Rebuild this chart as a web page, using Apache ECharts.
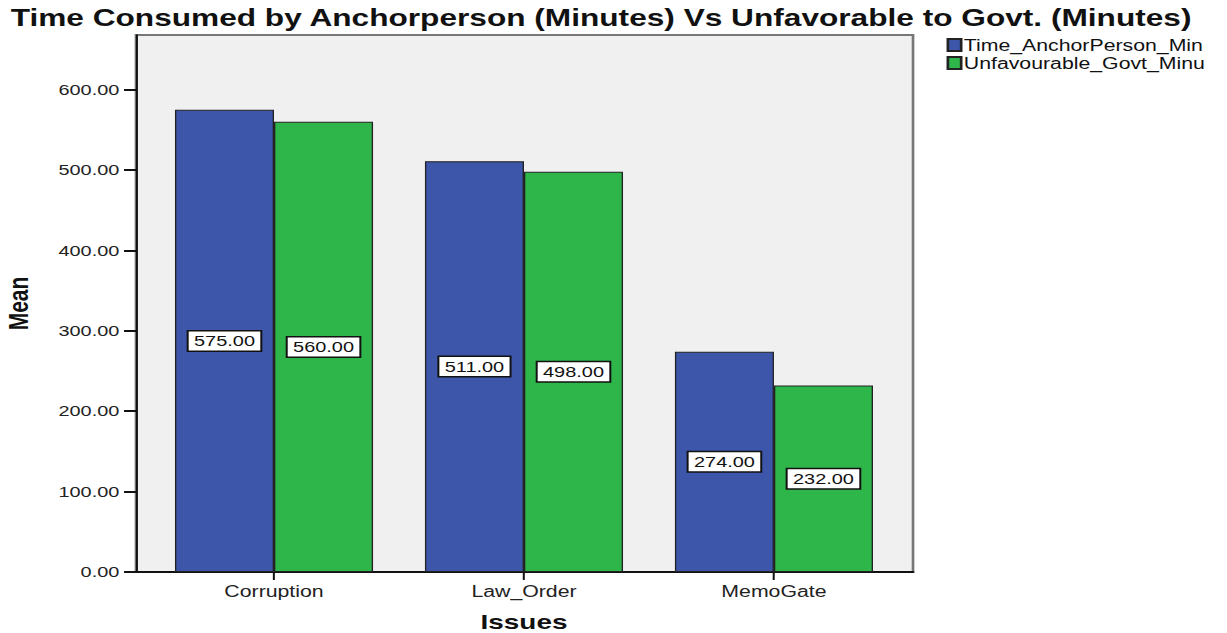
<!DOCTYPE html>
<html>
<head>
<meta charset="utf-8">
<script src="https://cdn.jsdelivr.net/npm/echarts@6/dist/echarts.min.js"></script>
<style>
  html, body { margin: 0; padding: 0; background: #fff; overflow: hidden; }
  #wrap { width: 1227px; height: 633px; overflow: hidden; }
  /* the original SPSS picture is stretched sideways, so the chart is too */
  #main { width: 923px; height: 633px; transform: scaleX(1.3294); transform-origin: 0 0; }
</style>
</head>
<body>
<div id="wrap"><div id="main"></div></div>
<script>
// data
var issues = ["Corruption", "Law_Order", "MemoGate"];
var anchorTime = [575, 511, 274];
var unfavGovt = [560, 498, 232];
var seriesNames = ["Time_AnchorPerson_Minutes", "Unfavourable_Govt_Minutes"];
var yTicks = [0, 100, 200, 300, 400, 500, 600];
var yMax = 668;

var font = "Liberation Sans, Arial, sans-serif";

function barLabel() {
  return {
    show: true,
    position: "inside",
    formatter: function (p) { return p.value.toFixed(2); },
    backgroundColor: "#fff",
    borderColor: "#111",
    borderWidth: 1.5,
    padding: [3, 4, 1, 4],
    fontSize: 15,
    fontFamily: font,
    color: "#111"
  };
}

var option = {
  animation: false,
  title: {
    text: "Time Consumed by Anchorperson (Minutes) Vs Unfavorable to Govt. (Minutes)",
    left: 3,
    top: 1,
    textStyle: { fontSize: 23.8, fontWeight: "bold", fontFamily: font, color: "#111" }
  },
  legend: {
    orient: "vertical",
    left: 712,
    top: 37,
    padding: 0,
    itemWidth: 10,
    itemHeight: 12,
    itemGap: 2,
    icon: "rect",
    textStyle: { fontSize: 16, fontFamily: font, color: "#111", padding: [0, 0, 0, -3],
      width: 187, overflow: "truncate", ellipsis: "" },
    data: seriesNames
  },
  grid: [
    // frame with grey background
    { left: 102.3, right: 236.2, top: 35, bottom: 61, show: true, outerBoundsMode: "none",
      backgroundColor: "#f0f0f0", borderColor: "#777", borderWidth: 2 },
    // data area, inset like the original
    { left: 112.1, right: 246.8, top: 35, bottom: 61, outerBoundsMode: "none" }
  ],
  xAxis: [
    { gridIndex: 0, type: "value", min: 0, max: 1,
      axisLine: { show: true, onZero: false, lineStyle: { color: "#111", width: 2 } },
      axisTick: { show: false }, axisLabel: { show: false }, splitLine: { show: false } },
    { gridIndex: 1, type: "category", data: issues, boundaryGap: true,
      axisLine: { show: false },
      axisTick: { show: true, alignWithLabel: true, length: 8, lineStyle: { color: "#111", width: 1.5 } },
      axisLabel: { fontSize: 16, fontFamily: font, color: "#222", margin: 11 },
      name: "Issues", nameLocation: "middle", nameGap: 39,
      nameTextStyle: { fontSize: 21, fontWeight: "bold", fontFamily: font, color: "#111" } }
  ],
  yAxis: [
    { gridIndex: 0, type: "value", min: 0, max: yMax,
      axisLine: { show: true, lineStyle: { color: "#111", width: 1.5 } },
      axisTick: { show: true, length: 9, customValues: yTicks, lineStyle: { color: "#111", width: 2 } },
      axisLabel: { fontSize: 15, fontFamily: font, color: "#222", margin: 12.5, customValues: yTicks,
        formatter: function (v) { return v.toFixed(2); } },
      splitLine: { show: false },
      name: "Mean", nameLocation: "middle", nameGap: 78, nameRotate: 90,
      nameTextStyle: { fontSize: 21, fontWeight: "bold", fontFamily: font, color: "#111" } },
    { gridIndex: 1, type: "value", min: 0, max: yMax, show: false,
      splitLine: { show: false } }
  ],
  series: [
    { name: seriesNames[0], type: "bar", xAxisIndex: 1, yAxisIndex: 1,
      data: anchorTime, barWidth: 74.5, barGap: "0%",
      itemStyle: { color: "#3d56a9", borderColor: "#222", borderWidth: 1 },
      label: barLabel() },
    { name: seriesNames[1], type: "bar", xAxisIndex: 1, yAxisIndex: 1,
      data: unfavGovt, barWidth: 74.5, barGap: "0%",
      itemStyle: { color: "#2eb64a", borderColor: "#222", borderWidth: 1 },
      label: barLabel() }
  ]
};

var chart = echarts.init(document.getElementById("main"), null, { renderer: "svg" });
chart.setOption(option);
</script>
</body>
</html>
